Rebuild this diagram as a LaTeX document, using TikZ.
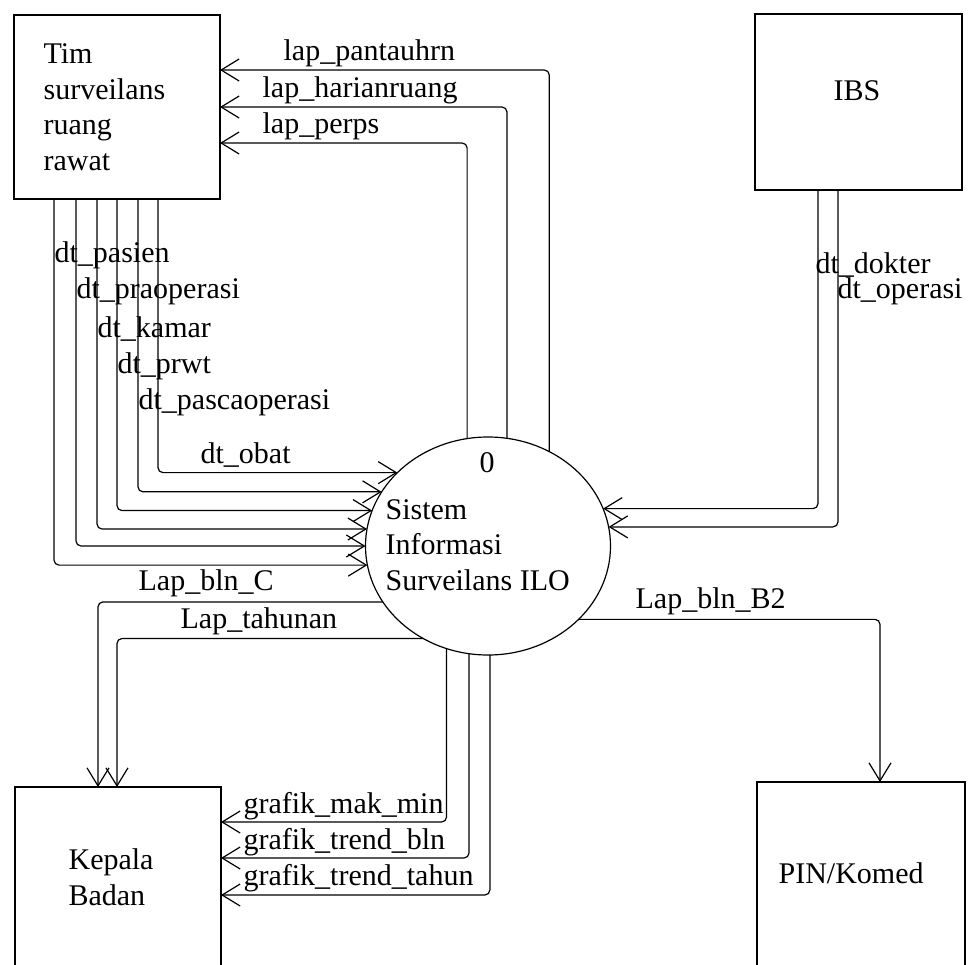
\documentclass[tikz,border=0pt]{standalone}
\usepackage{fontspec}
\setmainfont{Liberation Serif}
\usetikzlibrary{arrows.meta,shapes.geometric}

\begin{document}
\begin{tikzpicture}[x=0.5pt,y=-0.5pt,line width=0.6pt,>={Straight Barb[length=9pt,width=11pt]},
  entity/.style={draw,rectangle,inner sep=0pt,outer sep=0pt},
  process/.style={draw,ellipse,inner sep=0pt,outer sep=0pt,minimum width=122.5pt,minimum height=109pt},
  txt/.style={inner sep=0pt,anchor=base west,align=left,font=\fontsize{15pt}{17.75pt}\selectfont},
  flow/.style={->,rounded corners=2.5pt}]
\useasboundingbox (0,0) rectangle (971,965);

% entities and process
\node[entity,minimum width=103pt,minimum height=92pt] (tim) at (117,107) {};
\node[entity,minimum width=103.5pt,minimum height=88pt] (ibs) at (858.5,102) {};
\node[entity,minimum width=103pt,minimum height=91pt] (kb) at (118,878) {};
\node[entity,minimum width=104pt,minimum height=93pt] (pin) at (861,875) {};
\node[process] (proc) at (488,546) {};

% base of a multi-line text is its last line
\node[txt] (timtxt) at (43,170) {Tim\\surveilans\\ruang\\rawat};
\node[txt,anchor=base] (ibstxt) at (857,100) {IBS};
\node[txt,anchor=base] (procno) at (487,472) {0};
\node[txt] (proctxt) at (385,590) {Sistem\\Informasi\\Surveilans ILO};
\node[txt] (kbtxt) at (68,905) {Kepala\\Badan};
\node[txt] (pintxt) at (778,883) {PIN/Komed};

% data flows
\draw[flow] (proc.57.7) |- (tim.east |- 0,70);
\draw[flow] (proc.80) |- (tim.east |- 0,107);
\draw[flow] (proc.101.1) |- (tim.east |- 0,143);

\draw[flow] (tim.south -| 54,0) |- (proc.189);
\draw[flow] (tim.south -| 76,0) |- (proc.180.5);
\draw[flow] (tim.south -| 97,0) |- (proc.172);
\draw[flow] (tim.south -| 117,0) |- (proc.163.7);
\draw[flow] (tim.south -| 138,0) |- (proc.153.1);
\draw[flow] (tim.south -| 158,0) |- (proc.141.9);

\draw[flow] (ibs.south -| 818,0) |- (proc.18.3);
\draw[flow] (ibs.south -| 838,0) |- (proc.9.4);

\draw[flow] (proc.208.6) -| (kb.north -| 98,0);
\draw[flow] (proc.235.5) -| (kb.north -| 117,0);
\draw[flow] (proc.248.8) |- (kb.east |- 0,822);
\draw[flow] (proc.260) |- (kb.east |- 0,858);
\draw[flow] (proc.271.1) |- (kb.east |- 0,895);

\draw[flow] (proc.321.9) -| (pin.north -| 880,0);

% flow labels
\node[txt] (lpantau) at (283,60) {lap\_pantauhrn};
\node[txt] (lharian) at (262,97) {lap\_harianruang};
\node[txt] (lperps) at (262,133) {lap\_perps};
\node[txt] (dpasien) at (54,262) {dt\_pasien};
\node[txt] (dpra) at (76,298) {dt\_praoperasi};
\node[txt] (dkamar) at (97,337) {dt\_kamar};
\node[txt] (dprwt) at (117,373) {dt\_prwt};
\node[txt] (dpasca) at (138,409) {dt\_pascaoperasi};
\node[txt] (dobat) at (200,463) {dt\_obat};
\node[txt] (ddokter) at (815,273) {dt\_dokter};
\node[txt] (doperasi) at (837,298) {dt\_operasi};
\node[txt] (lblnc) at (138,590) {Lap\_bln\_C};
\node[txt] (ltahun) at (180,628) {Lap\_tahunan};
\node[txt] (lblnb) at (635,608) {Lap\_bln\_B2};
\node[txt] (gmak) at (243,813) {grafik\_mak\_min};
\node[txt] (gbln) at (243,849) {grafik\_trend\_bln};
\node[txt] (gtahun) at (243,885) {grafik\_trend\_tahun};

\end{tikzpicture}
\end{document}
